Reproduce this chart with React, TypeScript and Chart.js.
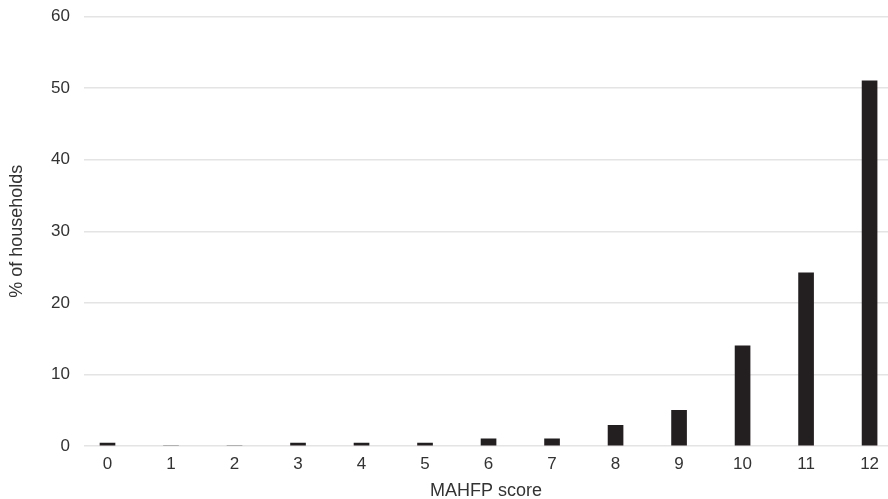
import React, { useEffect, useRef } from "react";
import { Chart, registerables } from "chart.js";

Chart.register(...registerables);

const scores = [0, 1, 2, 3, 4, 5, 6, 7, 8, 9, 10, 11, 12];
const householdPct = [0.4, 0, 0, 0.4, 0.4, 0.4, 1, 1, 2.9, 5, 14, 24.2, 51];
const yTicks = [0, 10, 20, 30, 40, 50, 60];

const FONT = "'Liberation Sans', Arial, Helvetica, sans-serif";
const TEXT = "#333333";

export default function App() {
  const ref = useRef<HTMLCanvasElement | null>(null);

  useEffect(() => {
    document.body.style.margin = "0";
    const ctx = ref.current;
    if (!ctx) return;
    const chart = new Chart(ctx, {
      type: "bar",
      data: {
        datasets: [
          {
            data: scores.map((s, i) => ({ x: s, y: householdPct[i] })),
            backgroundColor: "#231f20",
            barThickness: 15,
          },
        ],
      },
      options: {
        animation: false,
        responsive: false,
        maintainAspectRatio: false,
        layout: { padding: { top: 16.5, right: 0, left: 0, bottom: 0 } },
        plugins: { legend: { display: false }, tooltip: { enabled: false } },
        scales: {
          x: {
            type: "linear",
            offset: false,
            min: -0.37,
            max: 12.29,
            grid: { display: false, drawTicks: false },
            border: { display: false },
            ticks: {
              stepSize: 1,
              includeBounds: false,
              autoSkip: false,
              maxRotation: 0,
              padding: 8,
              color: TEXT,
              font: { family: FONT, size: 17 },
            },
            title: {
              display: true,
              text: "MAHFP score",
              color: TEXT,
              font: { family: FONT, size: 18, lineHeight: 1 },
              padding: { top: 0, bottom: -1 },
            },
            afterFit: (s: any) => {
              s.height = 53;
              s.paddingLeft = 0;
              s.paddingRight = 0;
            },
          },
          y: {
            min: 0,
            max: 60,
            afterBuildTicks: (s: any) => {
              s.ticks = yTicks.map((v) => ({ value: v }));
            },
            grid: { color: "#e4e4e4", lineWidth: 1.5, drawTicks: false },
            border: { display: false },
            ticks: {
              padding: 14,
              color: TEXT,
              font: { family: FONT, size: 17 },
            },
            title: {
              display: true,
              text: "% of households",
              color: TEXT,
              font: { family: FONT, size: 18, lineHeight: 1.2 },
              padding: { top: 6, bottom: 0 },
            },
            afterFit: (s: any) => {
              s.width = 84;
              s.paddingTop = 0;
              s.paddingBottom = 0;
            },
          },
        },
      },
    });
    return () => chart.destroy();
  }, []);

  return (
    <div style={{ position: "absolute", left: 0, top: 0, width: 888, height: 499 }}>
      <canvas ref={ref} width={888} height={499} style={{ width: 888, height: 499 }} />
    </div>
  );
}
